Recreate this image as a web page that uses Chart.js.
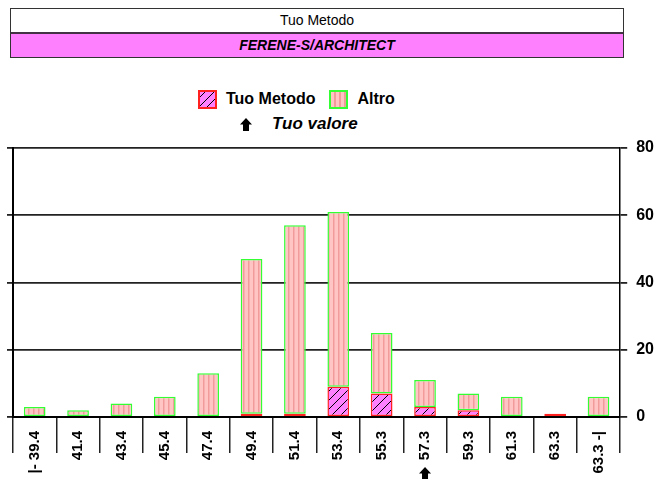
<!DOCTYPE html>
<html>
<head>
<meta charset="utf-8">
<script src="https://cdn.jsdelivr.net/npm/chart.js@4"></script>
<style>
  html, body { margin: 0; padding: 0; background: #fff; }
  body { width: 665px; height: 479px; position: relative; overflow: hidden; font-family: 'Liberation Sans', Arial, sans-serif; }
  #hdr { position: absolute; left: 10px; top: 8px; width: 612px; border: 1px solid #333; }
  #hdr .r1 { height: 23px; line-height: 23px; text-align: center; font-size: 14px; color: #000; border-bottom: 2px solid #443344; }
  #hdr .r2 { height: 23px; line-height: 23px; text-align: center; font-size: 14px; font-weight: bold; font-style: italic; background: #ff80ff; color: #000; }
  #leg { position: absolute; left: 198px; top: 90px; height: 18px; display: flex; align-items: center; font-weight: bold; font-size: 16px; }
  #leg .box { width: 15px; height: 15px; margin-right: 9px; }
  #leg .lab { margin-right: 14px; }
  #leg .tuo { border: 2px solid #ff2020; background: repeating-linear-gradient(-45deg, #ff80ff 0 5px, #000 5px 6px); }
  #leg .altro { border: 2px solid #33ff33; background: repeating-linear-gradient(90deg, #ffc4c4 0 3px, #f29b9b 3px 5px); }
  #val { position: absolute; left: 240px; top: 114px; font-size: 17px; font-weight: bold; font-style: italic; display: flex; align-items: center; }
  #val svg { margin-right: 20px; }
  #c { position: absolute; left: 0; top: 0; }
</style>
</head>
<body>
<div id="hdr">
  <div class="r1">Tuo Metodo</div>
  <div class="r2">FERENE-S/ARCHITECT</div>
</div>
<div id="leg"></div>
<div id="val"><svg width="12" height="13" viewBox="0 0 12 13"><path d="M6 0 L12 6.5 L9 6.5 L9 13 L3 13 L3 6.5 L0 6.5 Z" fill="#000"/></svg><span>Tuo valore</span></div>
<canvas id="c" width="665" height="479"></canvas>
<script>
// classi di valore (asse x)
const categories = ['|- 39.4', '41.4', '43.4', '45.4', '47.4', '49.4', '51.4', '53.4', '55.3', '57.3', '59.3', '61.3', '63.3', '63.3 -|'];
const seriesNames = ['Tuo Metodo', 'Altro'];
const tuoMetodo = [0, 0, 0, 0, 0, 1, 1, 9, 7, 3, 2, 0, 1, 0];
const altro = [3, 2, 4, 6, 13, 46, 56, 52, 18, 8, 5, 6, 0, 6];
const yTicks = [0, 20, 40, 60, 80];
const tuoValore = '57.3';

// legend html
const leg = document.getElementById('leg');
leg.innerHTML = seriesNames.map((n, i) =>
  `<span class="box ${i === 0 ? 'tuo' : 'altro'}"></span><span class="lab">${n}</span>`).join('');

function hatchPattern() {
  const p = document.createElement('canvas');
  p.width = 9; p.height = 9;
  const g = p.getContext('2d');
  g.fillStyle = '#ff80ff';
  g.fillRect(0, 0, 9, 9);
  g.strokeStyle = '#000';
  g.lineWidth = 1;
  g.beginPath();
  g.moveTo(0, 9); g.lineTo(9, 0);
  g.stroke();
  return g.createPattern(p, 'repeat');
}

function stripePattern() {
  const p = document.createElement('canvas');
  p.width = 5; p.height = 4;
  const g = p.getContext('2d');
  g.fillStyle = '#ffc4c4';
  g.fillRect(0, 0, 5, 4);
  g.fillStyle = '#f29b9b';
  g.fillRect(3, 0, 1.5, 4);
  return g.createPattern(p, 'repeat');
}

// freccia sotto la classe del tuo valore
const arrowPlugin = {
  id: 'tuoArrow',
  afterDraw(chart) {
    const x = chart.scales.x;
    const idx = categories.indexOf(tuoValore);
    if (idx < 0) return;
    const cx = x.getPixelForValue(idx);
    const top = chart.height - 12;
    const ctx = chart.ctx;
    ctx.save();
    ctx.fillStyle = '#000';
    ctx.beginPath();
    ctx.moveTo(cx, top);
    ctx.lineTo(cx + 6, top + 6.5);
    ctx.lineTo(cx + 3, top + 6.5);
    ctx.lineTo(cx + 3, top + 13);
    ctx.lineTo(cx - 3, top + 13);
    ctx.lineTo(cx - 3, top + 6.5);
    ctx.lineTo(cx - 6, top + 6.5);
    ctx.closePath();
    ctx.fill();
    ctx.restore();
  }
};

const tickFont = { family: "'Liberation Sans', Arial, sans-serif", size: 15, weight: 'bold' };

new Chart(document.getElementById('c'), {
  type: 'bar',
  data: {
    labels: categories,
    datasets: [
      {
        label: seriesNames[0],
        data: tuoMetodo,
        backgroundColor: hatchPattern(),
        borderColor: '#ff2020',
        borderWidth: ctx => (ctx.raw ? 1.5 : 0),
        borderSkipped: false,
      },
      {
        label: seriesNames[1],
        data: altro,
        backgroundColor: stripePattern(),
        borderColor: '#33ff33',
        borderWidth: ctx => (ctx.raw ? 1.5 : 0),
        borderSkipped: false,
      },
    ],
  },
  options: {
    responsive: false,
    animation: false,
    events: [],
    categoryPercentage: 1,
    barPercentage: 0.5,
    layout: { padding: { top: 148, left: 7, right: 2, bottom: 0 } },
    plugins: { legend: { display: false }, tooltip: { enabled: false } },
    scales: {
      x: {
        stacked: true,
        afterFit: s => { s.height = 62; },
        grid: { drawOnChartArea: false, tickLength: 36, color: '#222', lineWidth: 1.5 },
        border: { color: '#000', width: 2 },
        ticks: { autoSkip: false, minRotation: 90, maxRotation: 90, padding: -22, color: '#000', font: tickFont },
      },
      y: {
        stacked: true,
        position: 'right',
        min: yTicks[0],
        max: yTicks[yTicks.length - 1],
        afterBuildTicks: s => { s.ticks = yTicks.map(v => ({ value: v })); },
        grid: { color: '#222', lineWidth: 1.8, tickLength: 7 },
        border: { color: '#000', width: 1.5 },
        ticks: { padding: 9, color: '#000', font: { family: "'Liberation Sans', Arial, sans-serif", size: 16, weight: 'bold' } },
      },
      yL: {
        position: 'left',
        min: yTicks[0],
        max: yTicks[yTicks.length - 1],
        afterBuildTicks: s => { s.ticks = yTicks.map(v => ({ value: v })); },
        grid: { drawOnChartArea: false, color: '#222', lineWidth: 1.8, tickLength: 6 },
        border: { color: '#000', width: 2 },
        ticks: { display: false },
      },
    },
  },
  plugins: [arrowPlugin],
});
</script>
</body>
</html>
